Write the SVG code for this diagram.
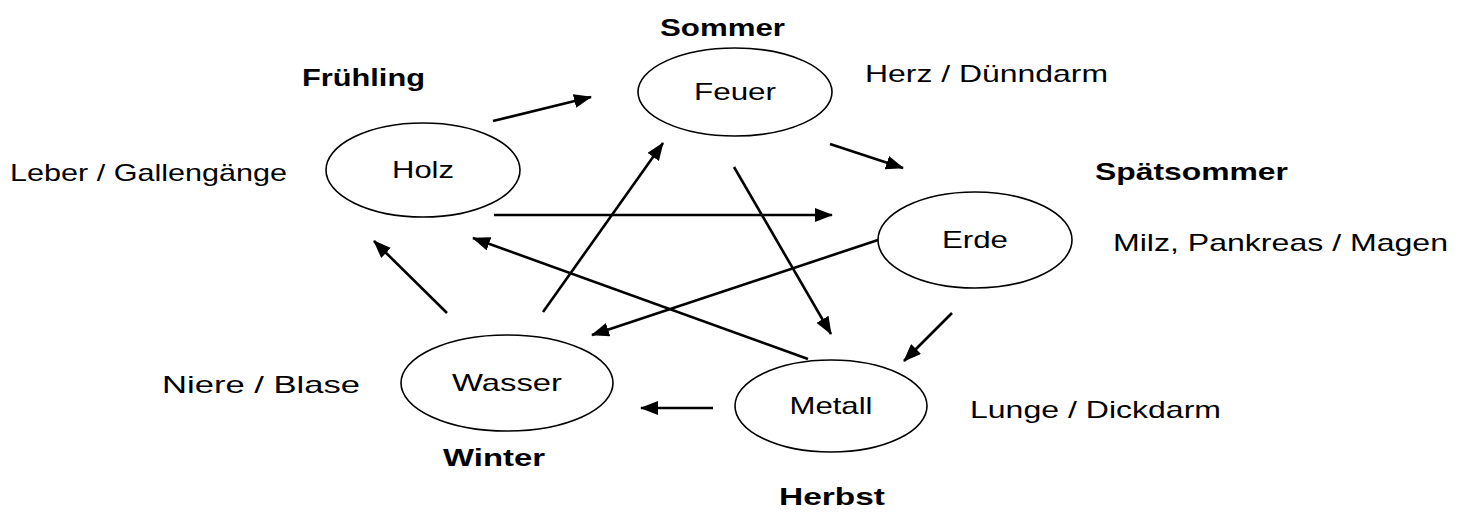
<svg xmlns="http://www.w3.org/2000/svg" width="1466" height="517" viewBox="0 0 1466 517">
<defs>
<style>
.node ellipse{fill:#fff;stroke:#000;stroke-width:1.6}
text{font-family:"Liberation Sans",Arial,sans-serif;font-size:24px;fill:#000}
.nt{text-anchor:middle}
.b{font-weight:bold}
#connectors line{stroke:#000;stroke-width:2.6;marker-end:url(#ah)}
</style>
<marker id="ah" markerUnits="userSpaceOnUse" markerWidth="18" markerHeight="14" refX="17" refY="7" orient="auto" viewBox="0 0 18 14">
<path d="M0,0 L18,7 L0,14 z" fill="#000"/>
</marker>
</defs>
<rect width="1466" height="517" fill="#fff"/>
<g id="connectors">
<line x1="493" y1="121" x2="591" y2="97"/>
<line x1="830" y1="144" x2="903" y2="168"/>
<line x1="494" y1="215" x2="832" y2="215"/>
<line x1="878" y1="240" x2="592" y2="335"/>
<line x1="952" y1="313" x2="904" y2="361"/>
<line x1="713" y1="408" x2="641" y2="408"/>
<line x1="447" y1="313" x2="374" y2="241"/>
<line x1="543" y1="312" x2="663" y2="143"/>
<line x1="734" y1="167" x2="831" y2="334"/>
<line x1="808" y1="359" x2="473" y2="238"/>
</g>
<g id="holz" class="node"><ellipse cx="423" cy="170" rx="97" ry="47"/><text class="nt" x="423" y="178" textLength="62" lengthAdjust="spacingAndGlyphs">Holz</text></g>
<g id="feuer" class="node"><ellipse cx="735" cy="92" rx="97" ry="44"/><text class="nt" x="735" y="100" textLength="82" lengthAdjust="spacingAndGlyphs">Feuer</text></g>
<g id="erde" class="node"><ellipse cx="975" cy="240" rx="97" ry="48"/><text class="nt" x="975" y="248" textLength="66" lengthAdjust="spacingAndGlyphs">Erde</text></g>
<g id="wasser" class="node"><ellipse cx="507" cy="383" rx="106" ry="48"/><text class="nt" x="507" y="391" textLength="110" lengthAdjust="spacingAndGlyphs">Wasser</text></g>
<g id="metall" class="node"><ellipse cx="831" cy="406" rx="96" ry="46"/><text class="nt" x="831" y="414" textLength="83" lengthAdjust="spacingAndGlyphs">Metall</text></g>
<g id="labels">
<text class="b" x="660" y="36" textLength="125" lengthAdjust="spacingAndGlyphs">Sommer</text>
<text class="b" x="302" y="86" textLength="123" lengthAdjust="spacingAndGlyphs">Frühling</text>
<text x="865" y="82" textLength="243" lengthAdjust="spacingAndGlyphs">Herz / Dünndarm</text>
<text class="b" x="1095" y="180" textLength="193" lengthAdjust="spacingAndGlyphs">Spätsommer</text>
<text x="10" y="181" textLength="277" lengthAdjust="spacingAndGlyphs">Leber / Gallengänge</text>
<text x="1113" y="251" textLength="335" lengthAdjust="spacingAndGlyphs">Milz, Pankreas / Magen</text>
<text x="162" y="393" textLength="198" lengthAdjust="spacingAndGlyphs">Niere / Blase</text>
<text x="970" y="418" textLength="251" lengthAdjust="spacingAndGlyphs">Lunge / Dickdarm</text>
<text class="b" x="443" y="466" textLength="102" lengthAdjust="spacingAndGlyphs">Winter</text>
<text class="b" x="779" y="505" textLength="106" lengthAdjust="spacingAndGlyphs">Herbst</text>
</g>
</svg>
